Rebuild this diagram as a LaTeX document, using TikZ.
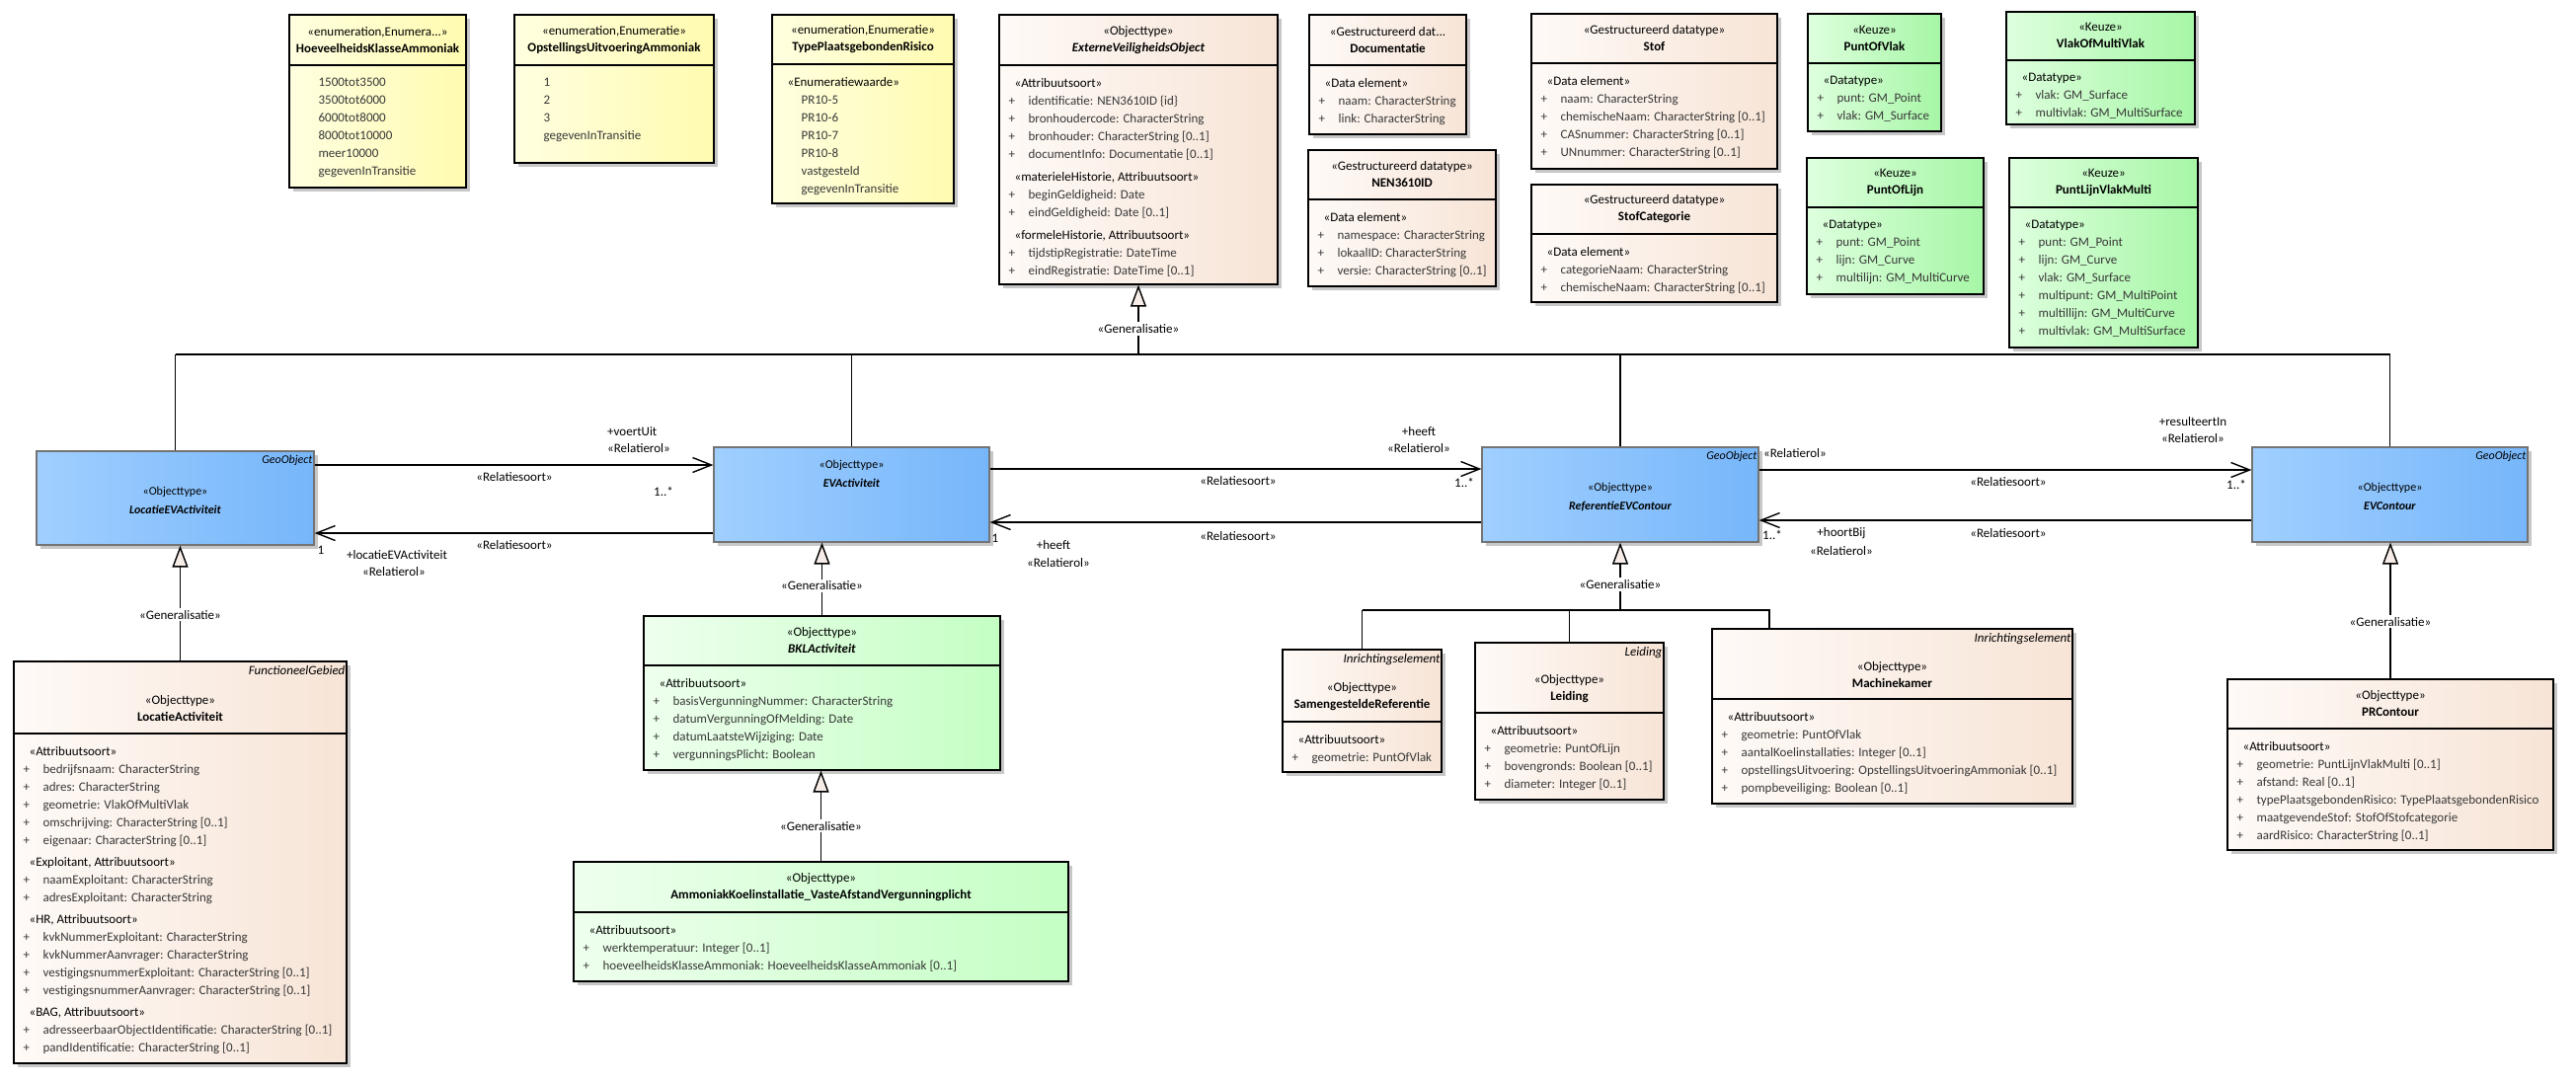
\documentclass[tikz,border=0pt]{standalone}
\usepackage{fontspec}
\setmainfont{Carlito}
\usetikzlibrary{arrows.meta,shadows,fit}

\definecolor{enumL}{RGB}{255,255,224}
\definecolor{enumR}{RGB}{255,251,176}
\definecolor{peachL}{RGB}{254,250,247}
\definecolor{peachR}{RGB}{247,228,214}
\definecolor{keuzeL}{RGB}{222,255,222}
\definecolor{keuzeR}{RGB}{166,246,166}
\definecolor{geoL}{RGB}{160,207,255}
\definecolor{geoR}{RGB}{118,182,250}
\definecolor{bklL}{RGB}{238,255,238}
\definecolor{bklR}{RGB}{196,255,196}
\definecolor{trifill}{RGB}{246,236,232}

\tikzset{
	umlbox/.style={draw=black, line width=1.2pt, inner sep=0pt,
		drop shadow={shadow xshift=4pt, shadow yshift=-4pt, fill=black!22, opacity=1}},
	enumbox/.style={umlbox, left color=enumL, right color=enumR},
	peachbox/.style={umlbox, left color=peachL, right color=peachR},
	keuzebox/.style={umlbox, left color=keuzeL, right color=keuzeR},
	bklbox/.style={umlbox, left color=bklL, right color=bklR},
	geobox/.style={umlbox, draw=black!55, left color=geoL, right color=geoR},
	umlhead/.style={align=center, inner sep=0pt, font=\fontsize{13}{17}\selectfont},
	geohead/.style={align=center, inner sep=0pt, font=\fontsize{12}{19}\selectfont},
	umlbody/.style={anchor=north west, inner sep=0pt, xshift=10pt, yshift=-13pt,
		align=left, font=\fontsize{13}{18}\selectfont, text=black!78},
	umltag/.style={anchor=north east, inner sep=2pt, yshift=-3pt, font=\itshape\fontsize{13}{15}\selectfont},
	rel/.style={inner sep=1pt, font=\fontsize{13}{15}\selectfont},
	genlabel/.style={rel, fill=white, inner sep=2pt},
	assoc/.style={line width=1.4pt, -{Straight Barb[length=19pt,width=15pt]}},
	gen/.style={line width=1.4pt, -{Triangle[length=22pt,width=16pt,fill=trifill]}},
	genline/.style={line width=1.4pt}
}

% one line of a compartment
\newcommand{\attr}[1]{\makebox[20pt][l]{+}#1}
\newcommand{\stereo}[1]{\hspace*{6pt}\textcolor{black}{«#1»}}
\newcommand{\lit}[1]{\hspace*{20pt}#1}

% name, style, corner, corner, divider y, header, body, tag
\newcommand{\umlclass}[8]{
	\node[#2, fit={#3 #4}] (#1) {};
	\draw[line width=1.2pt] (#1.west |- 0,#5) -- (#1.east |- 0,#5);
	\ifx\relax#8\relax
	\path (#1.north) -- (#1.north |- 0,#5) node[midway, umlhead] (#1-head) {#6};
	\else
	\node[umltag] (#1-tag) at (#1.north east) {#8};
	\path (#1.north) -- (#1.north |- 0,#5) node[midway, umlhead, yshift=-11pt] (#1-head) {#6};
	\fi
	\node[umlbody] (#1-body) at (#1.west |- 0,#5) {#7};
}

% name, corner, corner, header y, header, tag
\newcommand{\geoclass}[6]{
	\node[geobox, fit={#2 #3}] (#1) {};
	\node[geohead] (#1-head) at (#1.center |- 0,#4) {#5};
	\ifx\relax#6\relax\else
	\node[umltag, font=\itshape\fontsize{12}{14}\selectfont] (#1-tag) at (#1.north east) {#6};
	\fi
}

\begin{document}
\begin{tikzpicture}[x=1pt,y=-1pt]
	\useasboundingbox (0,0) rectangle (2609,1096);

	% enumerations
	\umlclass{hka}{enumbox}{(293,15)}{(472,190)}{66}
		{«enumeration,Enumera...»\\\textbf{HoeveelheidsKlasseAmmoniak}}
		{\lit{1500tot3500}\\\lit{3500tot6000}\\\lit{6000tot8000}\\\lit{8000tot10000}\\\lit{meer10000}\\\lit{gegevenInTransitie}}{}
	\umlclass{opstel}{enumbox}{(521,15)}{(723,165)}{66}
		{«enumeration,Enumeratie»\\\textbf{OpstellingsUitvoeringAmmoniak}}
		{\lit{1}\\\lit{2}\\\lit{3}\\\lit{gegevenInTransitie}}{}
	\umlclass{tpr}{enumbox}{(782,15)}{(966,206)}{65}
		{«enumeration,Enumeratie»\\\textbf{TypePlaatsgebondenRisico}}
		{\stereo{Enumeratiewaarde}\\\lit{PR10-5}\\\lit{PR10-6}\\\lit{PR10-7}\\\lit{PR10-8}\\\lit{vastgesteld}\\\lit{gegevenInTransitie}}{}

	% supertype and datatypes
	\umlclass{evo}{peachbox}{(1012,15)}{(1294,288)}{66}
		{«Objecttype»\\\textbf{\textit{ExterneVeiligheidsObject}}}
		{\stereo{Attribuutsoort}\\\attr{identificatie: NEN3610ID \{id\}}\\\attr{bronhoudercode: CharacterString}\\\attr{bronhouder: CharacterString [0..1]}\\\attr{documentInfo: Documentatie [0..1]}\\[5pt]\stereo{materieleHistorie, Attribuutsoort}\\\attr{beginGeldigheid: Date}\\\attr{eindGeldigheid: Date [0..1]}\\[5pt]\stereo{formeleHistorie, Attribuutsoort}\\\attr{tijdstipRegistratie: DateTime}\\\attr{eindRegistratie: DateTime [0..1]}}{}
	\umlclass{doc}{peachbox}{(1326,15)}{(1485,136)}{66}
		{«Gestructureerd dat...\\\textbf{Documentatie}}
		{\stereo{Data element}\\\attr{naam: CharacterString}\\\attr{link: CharacterString}}{}
	\umlclass{nen}{peachbox}{(1325,152)}{(1515,290)}{202}
		{«Gestructureerd datatype»\\\textbf{NEN3610ID}}
		{\stereo{Data element}\\\attr{namespace: CharacterString}\\\attr{lokaalID: CharacterString}\\\attr{versie: CharacterString [0..1]}}{}
	\umlclass{stof}{peachbox}{(1551,14)}{(1800,171)}{64}
		{«Gestructureerd datatype»\\\textbf{Stof}}
		{\stereo{Data element}\\\attr{naam: CharacterString}\\\attr{chemischeNaam: CharacterString [0..1]}\\\attr{CASnummer: CharacterString [0..1]}\\\attr{UNnummer: CharacterString [0..1]}}{}
	\umlclass{stofcat}{peachbox}{(1551,187)}{(1800,306)}{237}
		{«Gestructureerd datatype»\\\textbf{StofCategorie}}
		{\stereo{Data element}\\\attr{categorieNaam: CharacterString}\\\attr{chemischeNaam: CharacterString [0..1]}}{}

	% keuze types
	\umlclass{pov}{keuzebox}{(1831,14)}{(1966,133)}{64}
		{«Keuze»\\\textbf{PuntOfVlak}}
		{\stereo{Datatype}\\\attr{punt: GM\_Point}\\\attr{vlak: GM\_Surface}}{}
	\umlclass{vomv}{keuzebox}{(2032,12)}{(2223,126)}{61}
		{«Keuze»\\\textbf{VlakOfMultiVlak}}
		{\stereo{Datatype}\\\attr{vlak: GM\_Surface}\\\attr{multivlak: GM\_MultiSurface}}{}
	\umlclass{pol}{keuzebox}{(1830,160)}{(2009,298)}{210}
		{«Keuze»\\\textbf{PuntOfLijn}}
		{\stereo{Datatype}\\\attr{punt: GM\_Point}\\\attr{lijn: GM\_Curve}\\\attr{multilijn: GM\_MultiCurve}}{}
	\umlclass{plvm}{keuzebox}{(2035,160)}{(2226,352)}{210}
		{«Keuze»\\\textbf{PuntLijnVlakMulti}}
		{\stereo{Datatype}\\\attr{punt: GM\_Point}\\\attr{lijn: GM\_Curve}\\\attr{vlak: GM\_Surface}\\\attr{multipunt: GM\_MultiPoint}\\\attr{multillijn: GM\_MultiCurve}\\\attr{multivlak: GM\_MultiSurface}}{}

	% geo objects
	\geoclass{loc}{(37,457)}{(318,552)}{507}{«Objecttype»\\\textbf{\textit{LocatieEVActiviteit}}}{GeoObject}
	\geoclass{evact}{(723,453)}{(1002,549)}{480}{«Objecttype»\\\textbf{\textit{EVActiviteit}}}{}
	\geoclass{ref}{(1501,453)}{(1781,549)}{504}{«Objecttype»\\\textbf{\textit{ReferentieEVContour}}}{GeoObject}
	\geoclass{evc}{(2281,453)}{(2560,549)}{503}{«Objecttype»\\\textbf{\textit{EVContour}}}{GeoObject}

	% subtypes
	\umlclass{la}{peachbox}{(14,670)}{(351,1077)}{743}
		{«Objecttype»\\\textbf{LocatieActiviteit}}
		{\stereo{Attribuutsoort}\\\attr{bedrijfsnaam: CharacterString}\\\attr{adres: CharacterString}\\\attr{geometrie: VlakOfMultiVlak}\\\attr{omschrijving: CharacterString [0..1]}\\\attr{eigenaar: CharacterString [0..1]}\\[4pt]\stereo{Exploitant, Attribuutsoort}\\\attr{naamExploitant: CharacterString}\\\attr{adresExploitant: CharacterString}\\[4pt]\stereo{HR, Attribuutsoort}\\\attr{kvkNummerExploitant: CharacterString}\\\attr{kvkNummerAanvrager: CharacterString}\\\attr{vestigingsnummerExploitant: CharacterString [0..1]}\\\attr{vestigingsnummerAanvrager: CharacterString [0..1]}\\[4pt]\stereo{BAG, Attribuutsoort}\\\attr{adresseerbaarObjectIdentificatie: CharacterString [0..1]}\\\attr{pandIdentificatie: CharacterString [0..1]}}{FunctioneelGebied}
	\umlclass{bkl}{bklbox}{(652,624)}{(1013,780)}{674}
		{«Objecttype»\\\textbf{\textit{BKLActiviteit}}}
		{\stereo{Attribuutsoort}\\\attr{basisVergunningNummer: CharacterString}\\\attr{datumVergunningOfMelding: Date}\\\attr{datumLaatsteWijziging: Date}\\\attr{vergunningsPlicht: Boolean}}{}
	\umlclass{amm}{bklbox}{(581,873)}{(1082,994)}{924}
		{«Objecttype»\\\textbf{AmmoniakKoelinstallatie\_VasteAfstandVergunningplicht}}
		{\stereo{Attribuutsoort}\\\attr{werktemperatuur: Integer [0..1]}\\\attr{hoeveelheidsKlasseAmmoniak: HoeveelheidsKlasseAmmoniak [0..1]}}{}
	\umlclass{sr}{peachbox}{(1299,658)}{(1460,782)}{731}
		{«Objecttype»\\\textbf{SamengesteldeReferentie}}
		{\stereo{Attribuutsoort}\\\attr{geometrie: PuntOfVlak}}{Inrichtingselement}
	\umlclass{lei}{peachbox}{(1494,651)}{(1685,810)}{722}
		{«Objecttype»\\\textbf{Leiding}}
		{\stereo{Attribuutsoort}\\\attr{geometrie: PuntOfLijn}\\\attr{bovengronds: Boolean [0..1]}\\\attr{diameter: Integer [0..1]}}{Leiding}
	\umlclass{mk}{peachbox}{(1734,637)}{(2099,814)}{708}
		{«Objecttype»\\\textbf{Machinekamer}}
		{\stereo{Attribuutsoort}\\\attr{geometrie: PuntOfVlak}\\\attr{aantalKoelinstallaties: Integer [0..1]}\\\attr{opstellingsUitvoering: OpstellingsUitvoeringAmmoniak [0..1]}\\\attr{pompbeveiliging: Boolean [0..1]}}{Inrichtingselement}
	\umlclass{prc}{peachbox}{(2256,688)}{(2586,861)}{738}
		{«Objecttype»\\\textbf{PRContour}}
		{\stereo{Attribuutsoort}\\\attr{geometrie: PuntLijnVlakMulti [0..1]}\\\attr{afstand: Real [0..1]}\\\attr{typePlaatsgebondenRisico: TypePlaatsgebondenRisico}\\\attr{maatgevendeStof: StofOfStofcategorie}\\\attr{aardRisico: CharacterString [0..1]}}{}

	% generalisation tree under ExterneVeiligheidsObject
	\coordinate (bus) at (1153,359);
	\draw[genline] (loc.north |- bus) -- (evc.north |- bus);
	\foreach \kind in {loc,evact,ref,evc}
		\draw[genline] (\kind.north) -- (\kind.north |- bus);
	\draw[gen] (bus) -- (evo.south) node[genlabel, pos=0.37] (evo-gen) {«Generalisatie»};

	% generalisation tree under ReferentieEVContour
	\coordinate (rbus) at (1641,618);
	\coordinate (mkjoin) at (1792,618);
	\draw[genline] (sr.north |- rbus) -- (mkjoin) -- (mkjoin |- mk.north);
	\draw[genline] (sr.north) -- (sr.north |- rbus);
	\draw[genline] (lei.north) -- (lei.north |- rbus);
	\draw[gen] (rbus) -- (ref.south) node[genlabel, pos=0.38] (ref-gen) {«Generalisatie»};

	% single generalisations
	\draw[gen] (la.north) -- (la.north |- loc.south) node[genlabel, pos=0.4] (la-gen) {«Generalisatie»};
	\draw[gen] (bkl.north) -- (bkl.north |- evact.south) node[genlabel, pos=0.41] (bkl-gen) {«Generalisatie»};
	\draw[gen] (amm.north) -- (amm.north |- bkl.south) node[genlabel, pos=0.39] (amm-gen) {«Generalisatie»};
	\draw[gen] (prc.north) -- (prc.north |- evc.south) node[genlabel, pos=0.42] (prc-gen) {«Generalisatie»};

	% LocatieEVActiviteit <-> EVActiviteit
	\draw[assoc] (loc.east |- 0,471) -- (evact.west |- 0,471);
	\node[rel, anchor=west] (voertuit) at (614,437) {+voertUit};
	\node[rel, anchor=west] (voertuit-rol) at (614,454) {«Relatierol»};
	\node[rel] (voertuit-soort) at (521,483) {«Relatiesoort»};
	\node[rel] (voertuit-mult) at (672,498) {1..*};
	\draw[assoc] (evact.west |- 0,540) -- (loc.east |- 0,540);
	\node[rel] (locatie-soort) at (521,552) {«Relatiesoort»};
	\node[rel] (locatie-mult) at (325,557) {1};
	\node[rel] (locatie) at (402,562) {+locatieEVActiviteit};
	\node[rel] (locatie-rol) at (399,579) {«Relatierol»};

	% EVActiviteit <-> ReferentieEVContour
	\draw[assoc] (evact.east |- 0,475) -- (ref.west |- 0,475);
	\node[rel] (heeft1) at (1437,437) {+heeft};
	\node[rel] (heeft1-rol) at (1437,454) {«Relatierol»};
	\node[rel] (heeft1-soort) at (1254,487) {«Relatiesoort»};
	\node[rel] (heeft1-mult) at (1483,489) {1..*};
	\draw[assoc] (ref.west |- 0,529) -- (evact.east |- 0,529);
	\node[rel] (heeft2-soort) at (1254,543) {«Relatiesoort»};
	\node[rel] (heeft2-mult) at (1008,545) {1};
	\node[rel] (heeft2) at (1067,552) {+heeft};
	\node[rel] (heeft2-rol) at (1072,570) {«Relatierol»};

	% ReferentieEVContour <-> EVContour
	\draw[assoc] (ref.east |- 0,476) -- (evc.west |- 0,476);
	\node[rel] (result-bron) at (1818,459) {«Relatierol»};
	\node[rel] (result-soort) at (2034,488) {«Relatiesoort»};
	\node[rel] (result-mult) at (2265,491) {1..*};
	\node[rel] (result) at (2221,427) {+resulteertIn};
	\node[rel] (result-rol) at (2221,444) {«Relatierol»};
	\draw[assoc] (evc.west |- 0,527) -- (ref.east |- 0,527);
	\node[rel] (hoort-mult) at (1795,542) {1..*};
	\node[rel] (hoort) at (1865,540) {+hoortBij};
	\node[rel] (hoort-rol) at (1865,558) {«Relatierol»};
	\node[rel] (hoort-soort) at (2034,540) {«Relatiesoort»};
\end{tikzpicture}
\end{document}
